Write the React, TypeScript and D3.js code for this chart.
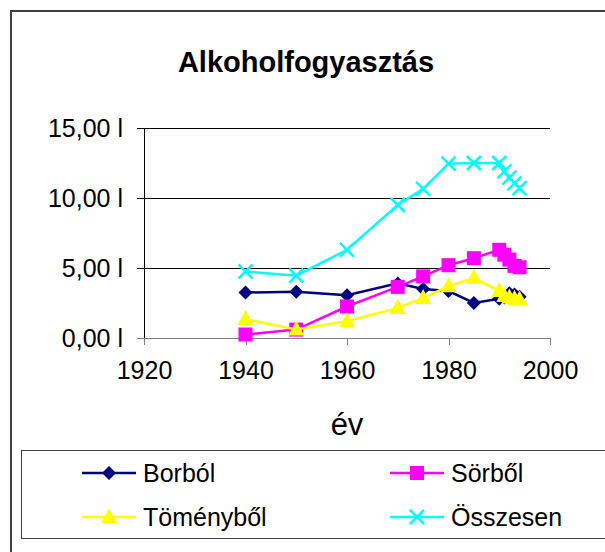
import { useEffect, useRef } from 'react';
import * as d3 from 'd3';

// years of the observations
const years = [1940, 1950, 1960, 1970, 1975, 1980, 1985, 1990, 1991, 1992, 1993, 1994];

// liters per capita
const borbol = [3.25, 3.3, 3.05, 3.9, 3.5, 3.35, 2.5, 2.8, 2.9, 3.2, 3.1, 2.95];
const sorbol = [0.25, 0.6, 2.25, 3.65, 4.4, 5.2, 5.7, 6.3, 5.95, 5.6, 5.15, 5.05];
const tomenybol = [1.35, 0.6, 1.2, 2.15, 2.85, 3.7, 4.3, 3.35, 3.0, 2.9, 2.8, 2.75];
const osszesen = [4.75, 4.45, 6.3, 9.5, 10.65, 12.45, 12.5, 12.5, 11.9, 11.45, 11.05, 10.7];

const xTicks = [1920, 1940, 1960, 1980, 2000];
const yTicks = [0, 5, 10, 15];

const seriesNames = ['Borból', 'Sörből', 'Töményből', 'Összesen'];
const seriesColors = ['#000080', '#FF00FF', '#FFFF00', '#00FFFF'];
const seriesMarkers = ['diamond', 'square', 'triangle', 'cross'];

const fmt = (v: number) => v.toFixed(2).replace('.', ',') + ' l';

function drawMarker(g: any, type: string, x: number, y: number, color: string) {
  if (type === 'diamond') {
    g.append('path')
      .attr('d', `M${x},${y - 7}L${x + 7},${y}L${x},${y + 7}L${x - 7},${y}Z`)
      .attr('fill', color);
  } else if (type === 'square') {
    g.append('rect')
      .attr('x', x - 7).attr('y', y - 7)
      .attr('width', 14).attr('height', 14)
      .attr('fill', color);
  } else if (type === 'triangle') {
    g.append('path')
      .attr('d', `M${x},${y - 9}L${x + 8},${y + 6}L${x - 8},${y + 6}Z`)
      .attr('fill', color);
  } else {
    g.append('path')
      .attr('d', `M${x - 7},${y - 7}L${x + 7},${y + 7}M${x + 7},${y - 7}L${x - 7},${y + 7}`)
      .attr('stroke', color)
      .attr('stroke-width', 2.5)
      .attr('fill', 'none');
  }
}

export default function App() {
  const svgRef = useRef<SVGSVGElement>(null);

  useEffect(() => {
    const svg = d3.select(svgRef.current);
    svg.selectAll('*').remove();

    const font = 'Arial, "Liberation Sans", sans-serif';

    // chart border
    svg.append('rect')
      .attr('x', 11).attr('y', 11)
      .attr('width', 610).attr('height', 560)
      .attr('fill', 'white')
      .attr('stroke', '#404040')
      .attr('stroke-width', 2);

    const x = d3.scaleLinear().domain([1920, 2000]).range([144, 550]);
    const y = d3.scaleLinear().domain([0, 15]).range([338, 128]);

    // gridlines
    svg.append('g')
      .selectAll('line')
      .data(yTicks.filter(t => t > 0))
      .join('line')
      .attr('x1', x(1920)).attr('x2', x(2000))
      .attr('y1', d => y(d)).attr('y2', d => y(d))
      .attr('stroke', '#000')
      .attr('stroke-width', 1)
      .attr('shape-rendering', 'crispEdges');

    // y axis
    const yAxis = svg.append('g')
      .attr('transform', `translate(${x(1920)},0)`)
      .call(d3.axisLeft(y).tickValues(yTicks).tickFormat(d => fmt(d as number)).tickSize(7).tickPadding(14));
    yAxis.select('.domain').attr('stroke', '#000').attr('shape-rendering', 'crispEdges');
    yAxis.selectAll('.tick line').attr('stroke', '#000').attr('shape-rendering', 'crispEdges');
    yAxis.selectAll('text')
      .attr('fill', '#000')
      .style('font-family', font)
      .style('font-size', '25px');

    // x axis
    const xAxis = svg.append('g')
      .attr('transform', `translate(0,${y(0)})`)
      .call(d3.axisBottom(x).tickValues(xTicks).tickFormat(d3.format('d')).tickSize(7).tickPadding(16));
    xAxis.select('.domain').attr('stroke', '#808080').attr('shape-rendering', 'crispEdges');
    xAxis.selectAll('.tick line').attr('stroke', '#808080').attr('shape-rendering', 'crispEdges');
    xAxis.selectAll('text')
      .attr('fill', '#000')
      .style('font-family', font)
      .style('font-size', '25px');
    // left part of the x axis line reaching the y tick
    svg.append('line')
      .attr('x1', 137).attr('x2', x(1920))
      .attr('y1', y(0)).attr('y2', y(0))
      .attr('stroke', '#808080')
      .attr('shape-rendering', 'crispEdges');

    // series
    const allSeries = [borbol, sorbol, tomenybol, osszesen];
    const line = d3.line<number>()
      .x((_, i) => x(years[i]))
      .y(d => y(d));

    allSeries.forEach((vals, si) => {
      const g = svg.append('g');
      g.append('path')
        .datum(vals)
        .attr('d', line)
        .attr('fill', 'none')
        .attr('stroke', seriesColors[si])
        .attr('stroke-width', 2.5);
      vals.forEach((v, i) => drawMarker(g, seriesMarkers[si], x(years[i]), y(v), seriesColors[si]));
    });

    // title
    svg.append('text')
      .attr('x', 306).attr('y', 72)
      .attr('text-anchor', 'middle')
      .style('font-family', font)
      .style('font-size', '29px')
      .style('font-weight', 'bold')
      .text('Alkoholfogyasztás');

    // x axis label
    svg.append('text')
      .attr('x', 347).attr('y', 435)
      .attr('text-anchor', 'middle')
      .style('font-family', font)
      .style('font-size', '31px')
      .text('év');

    // legend
    svg.append('rect')
      .attr('x', 21.5).attr('y', 450.5)
      .attr('width', 600).attr('height', 88)
      .attr('fill', 'white')
      .attr('stroke', '#404040')
      .attr('stroke-width', 1);

    const legendPos = [[82, 473], [390, 473], [82, 517], [390, 517]];
    seriesNames.forEach((name, i) => {
      const [lx, ly] = legendPos[i];
      const g = svg.append('g');
      g.append('line')
        .attr('x1', lx).attr('x2', lx + 54)
        .attr('y1', ly).attr('y2', ly)
        .attr('stroke', seriesColors[i])
        .attr('stroke-width', 2.5);
      drawMarker(g, seriesMarkers[i], lx + 27, ly, seriesColors[i]);
      g.append('text')
        .attr('x', lx + 61).attr('y', ly)
        .attr('dy', '0.35em')
        .style('font-family', font)
        .style('font-size', '25px')
        .text(name);
    });
  }, []);

  return (
    <div style={{ position: 'fixed', left: 0, top: 0 }}>
      <svg ref={svgRef} width={605} height={552} style={{ display: 'block' }}></svg>
    </div>
  );
}
